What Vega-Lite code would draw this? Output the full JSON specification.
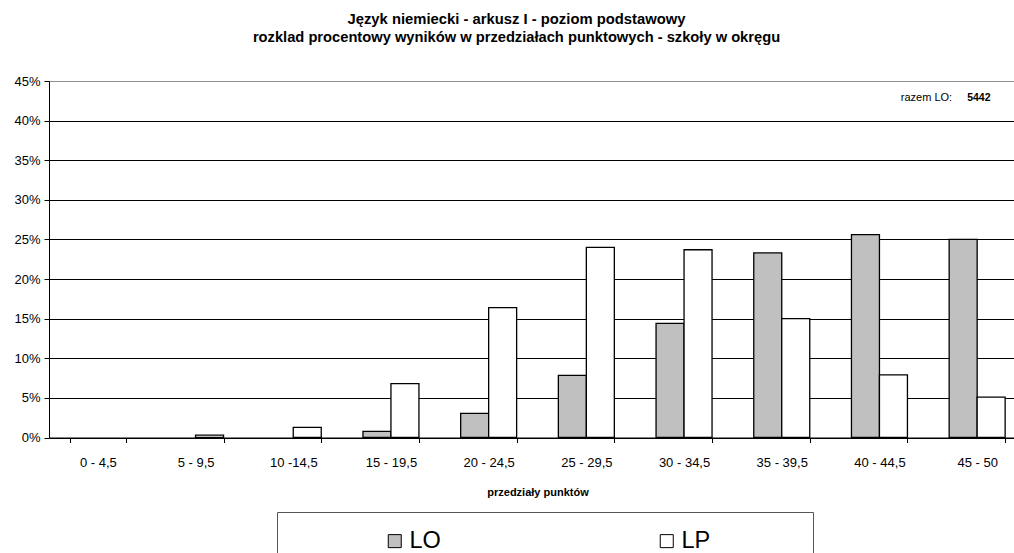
{
  "$schema": "https://vega.github.io/schema/vega-lite/v6.json",
  "autosize": {"type": "none"},
  "padding": {"left": 49, "top": 81, "right": 0, "bottom": 115.5},
  "width": 965,
  "height": 356.5,
  "background": "white",
  "config": {
    "view": {"stroke": null},
    "font": "Liberation Sans",
    "axisY": {
      "labelFont": "Liberation Sans",
      "labelFontSize": 13,
      "labelColor": "black",
      "labelPadding": 4,
      "labelOverlap": false,
      "tickSize": 5,
      "tickColor": "black",
      "domainColor": "black",
      "grid": true,
      "gridOpacity": 1,
      "gridWidth": 1
    },
    "axisX": {
      "labelAngle": 0,
      "labelFont": "Liberation Sans",
      "labelFontSize": 13,
      "labelColor": "black",
      "labelPadding": 14,
      "labelOverlap": false,
      "tickBand": "extent",
      "tickSize": 5,
      "tickColor": "black",
      "domainColor": "black",
      "titleFont": "Liberation Sans",
      "titleFontSize": 11,
      "titleFontWeight": "bold",
      "titleColor": "black",
      "titlePadding": 17
    }
  },
  "title": {
    "text": "Język niemiecki  - arkusz I - poziom podstawowy",
    "subtitle": "rozklad procentowy wyników w przedziałach punktowych - szkoły w okręgu",
    "anchor": "middle",
    "frame": "group",
    "dx": -15,
    "offset": 30,
    "font": "Liberation Sans",
    "fontSize": 14.8,
    "fontWeight": "bold",
    "color": "black",
    "subtitleFont": "Liberation Sans",
    "subtitleFontSize": 14.7,
    "subtitleFontWeight": "bold",
    "subtitleColor": "black",
    "subtitlePadding": 4
  },
  "layer": [
    {
      "data": {
        "values": [
          {"przedzial": "0 - 4,5", "typ": "LO", "procent": 0},
          {"przedzial": "0 - 4,5", "typ": "LP", "procent": 0},
          {"przedzial": "5 - 9,5", "typ": "LO", "procent": 0},
          {"przedzial": "5 - 9,5", "typ": "LP", "procent": 0.003},
          {"przedzial": "10 -14,5", "typ": "LO", "procent": 0},
          {"przedzial": "10 -14,5", "typ": "LP", "procent": 0.0129},
          {"przedzial": "15 - 19,5", "typ": "LO", "procent": 0.0078},
          {"przedzial": "15 - 19,5", "typ": "LP", "procent": 0.068},
          {"przedzial": "20 - 24,5", "typ": "LO", "procent": 0.0305},
          {"przedzial": "20 - 24,5", "typ": "LP", "procent": 0.164},
          {"przedzial": "25 - 29,5", "typ": "LO", "procent": 0.0785},
          {"przedzial": "25 - 29,5", "typ": "LP", "procent": 0.240},
          {"przedzial": "30 - 34,5", "typ": "LO", "procent": 0.144},
          {"przedzial": "30 - 34,5", "typ": "LP", "procent": 0.237},
          {"przedzial": "35 - 39,5", "typ": "LO", "procent": 0.233},
          {"przedzial": "35 - 39,5", "typ": "LP", "procent": 0.150},
          {"przedzial": "40 - 44,5", "typ": "LO", "procent": 0.256},
          {"przedzial": "40 - 44,5", "typ": "LP", "procent": 0.079},
          {"przedzial": "45 - 50", "typ": "LO", "procent": 0.250},
          {"przedzial": "45 - 50", "typ": "LP", "procent": 0.051}
        ]
      },
      "transform": [{"filter": "datum.procent > 0"}],
      "mark": {"type": "bar", "stroke": "black", "strokeWidth": 1.3},
      "encoding": {
        "x": {
          "field": "przedzial",
          "type": "nominal",
          "title": "przedziały punktów",
          "scale": {
            "domain": ["0 - 4,5", "5 - 9,5", "10 -14,5", "15 - 19,5", "20 - 24,5", "25 - 29,5", "30 - 34,5", "35 - 39,5", "40 - 44,5", "45 - 50"],
            "range": [0, 977],
            "paddingInner": 0.427,
            "paddingOuter": 0.2135
          }
        },
        "xOffset": {
          "field": "typ",
          "type": "nominal",
          "scale": {"domain": ["LO", "LP"], "paddingInner": 0, "paddingOuter": 0}
        },
        "y": {
          "field": "procent",
          "type": "quantitative",
          "title": null,
          "scale": {"domain": [0, 0.45], "nice": false},
          "axis": {
            "values": [0, 0.05, 0.1, 0.15, 0.2, 0.25, 0.3, 0.35, 0.4, 0.45],
            "format": ".0%",
            "gridColor": {"condition": {"test": "datum.value >= 0.449", "value": "#909090"}, "value": "black"}
          }
        },
        "color": {
          "field": "typ",
          "type": "nominal",
          "scale": {"domain": ["LO", "LP"], "range": ["#c0c0c0", "#ffffff"]},
          "legend": {
            "title": null,
            "orient": "none",
            "legendX": 228,
            "legendY": 431,
            "direction": "horizontal",
            "columns": 2,
            "columnPadding": 125,
            "padding": 17,
            "strokeColor": "#555555",
            "fillColor": "white",
            "symbolType": "square",
            "symbolSize": 169,
            "symbolStrokeColor": "black",
            "symbolStrokeWidth": 1,
            "symbolOpacity": 1,
            "symbolOffset": 89,
            "labelOffset": 3,
            "labelFont": "Liberation Sans",
            "labelFontSize": 23.5,
            "labelColor": "black",
            "labelLimit": 400,
            "labelExpr": "datum.label == 'LP' ? pad(datum.label, 15, '\u00a0') + '\u200b' : datum.label"
          }
        }
      }
    },
    {
      "data": {"values": [{"opis": "razem LO:", "liczba": "5442"}]},
      "layer": [
        {
          "mark": {"type": "text", "align": "right", "baseline": "middle", "dx": -25, "font": "Liberation Sans", "fontSize": 11, "color": "black"},
          "encoding": {
            "x": {"datum": "45 - 50", "type": "nominal", "title": "przedziały punktów"},
            "y": {
              "datum": 0.428,
              "type": "quantitative",
              "axis": {
                "values": [0, 0.05, 0.1, 0.15, 0.2, 0.25, 0.3, 0.35, 0.4, 0.45],
                "format": ".0%",
                "gridColor": {"condition": {"test": "datum.value >= 0.449", "value": "#909090"}, "value": "black"}
              }
            },
            "text": {"field": "opis"}
          }
        },
        {
          "mark": {"type": "text", "align": "left", "baseline": "middle", "dx": -10, "font": "Liberation Sans", "fontSize": 10.5, "fontWeight": "bold", "color": "black"},
          "encoding": {
            "x": {"datum": "45 - 50", "type": "nominal", "title": "przedziały punktów"},
            "y": {
              "datum": 0.428,
              "type": "quantitative",
              "axis": {
                "values": [0, 0.05, 0.1, 0.15, 0.2, 0.25, 0.3, 0.35, 0.4, 0.45],
                "format": ".0%",
                "gridColor": {"condition": {"test": "datum.value >= 0.449", "value": "#909090"}, "value": "black"}
              }
            },
            "text": {"field": "liczba"}
          }
        }
      ]
    }
  ]
}
